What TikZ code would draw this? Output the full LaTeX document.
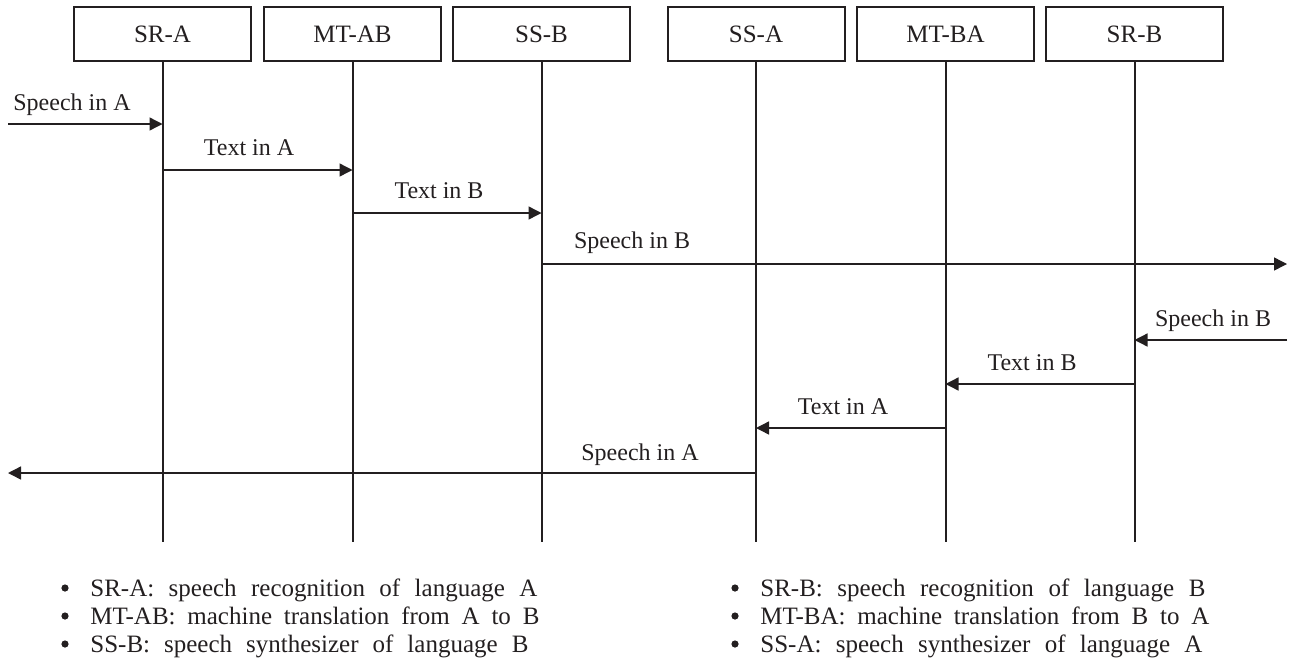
\documentclass[tikz,border=0pt]{standalone}
\usepackage{fontspec}
\setmainfont{Liberation Serif}
\usetikzlibrary{arrows.meta}
\definecolor{ink}{HTML}{231F20}
\tikzset{
  unit/.style={draw=ink, line width=1pt, minimum width=88.5pt, minimum height=27pt,
    inner sep=0pt, font=\fontsize{12.5}{14}\selectfont, text=ink},
  life/.style={draw=ink, line width=1pt},
  msg/.style={draw=ink, line width=0.7pt, -{Triangle[length=6.5pt,width=6.5pt]}},
  lbl/.style={anchor=base, inner sep=0pt, font=\fontsize{12}{14}\selectfont, text=ink},
  note/.style={anchor=base west, inner sep=0pt, font=\fontsize{12.5}{15}\selectfont, text=ink},
  dot/.style={circle, fill=ink, inner sep=0pt, minimum size=3.6pt}
}
\begin{document}
\begin{tikzpicture}[x=0.5pt, y=-0.5pt]
\useasboundingbox (0,0) rectangle (1289,659);

% participants
\node[unit] (srA) at (162.5,34) {SR-A};
\node[unit] (mtAB) at (352.5,34) {MT-AB};
\node[unit] (ssB) at (541.5,34) {SS-B};
\node[unit] (ssA) at (756,34) {SS-A};
\node[unit] (mtBA) at (945.5,34) {MT-BA};
\node[unit] (srB) at (1134.5,34) {SR-B};

% lifelines
\foreach \n in {srA,mtAB,ssB,ssA,mtBA,srB}{
  \coordinate (\n-end) at (\n.south |- 0,542);
  \draw[life] (\n.south) -- (\n-end);
}

% outside ends of the speech arrows
\coordinate (inA) at (8,124);
\coordinate (outB) at (1287,264);
\coordinate (inB) at (1287,340);
\coordinate (outA) at (8,473);

% messages
\draw[msg] (inA) -- (srA.south |- inA);
\node[lbl] at (72,110) {Speech in A};

\coordinate (m2) at (srA.south |- 0,170);
\draw[msg] (m2) -- (mtAB.south |- m2);
\node[lbl] at (249,155) {Text in A};

\coordinate (m3) at (mtAB.south |- 0,213);
\draw[msg] (m3) -- (ssB.south |- m3);
\node[lbl] at (439,198) {Text in B};

\draw[msg] (ssB.south |- outB) -- (outB);
\node[lbl] at (632,248) {Speech in B};

\draw[msg] (inB) -- (srB.south |- inB);
\node[lbl] at (1213,326) {Speech in B};

\coordinate (m6) at (srB.south |- 0,384);
\draw[msg] (m6) -- (mtBA.south |- m6);
\node[lbl] at (1032,370) {Text in B};

\coordinate (m7) at (mtBA.south |- 0,428);
\draw[msg] (m7) -- (ssA.south |- m7);
\node[lbl] at (843,414) {Text in A};

\draw[msg] (ssA.south |- outA) -- (outA);
\node[lbl] at (640,460) {Speech in A};

% legend
\foreach \y in {596,624,652}{
  \node[dot] at (65,\y-8) {};
  \node[dot] at (735,\y-8) {};
}
\node[note] (l1) at (90,596) {\makebox[223.5pt][s]{SR-A: speech recognition of language A}};
\node[note] (l2) at (90,624) {\makebox[224.5pt][s]{MT-AB: machine translation from A to B}};
\node[note] (l3) at (90,652) {\makebox[219pt][s]{SS-B: speech synthesizer of language B}};
\node[note] (r1) at (760,596) {\makebox[222.5pt][s]{SR-B: speech recognition of language B}};
\node[note] (r2) at (760,624) {\makebox[224.5pt][s]{MT-BA: machine translation from B to A}};
\node[note] (r3) at (760,652) {\makebox[221pt][s]{SS-A: speech synthesizer of language A}};
\end{tikzpicture}
\end{document}
